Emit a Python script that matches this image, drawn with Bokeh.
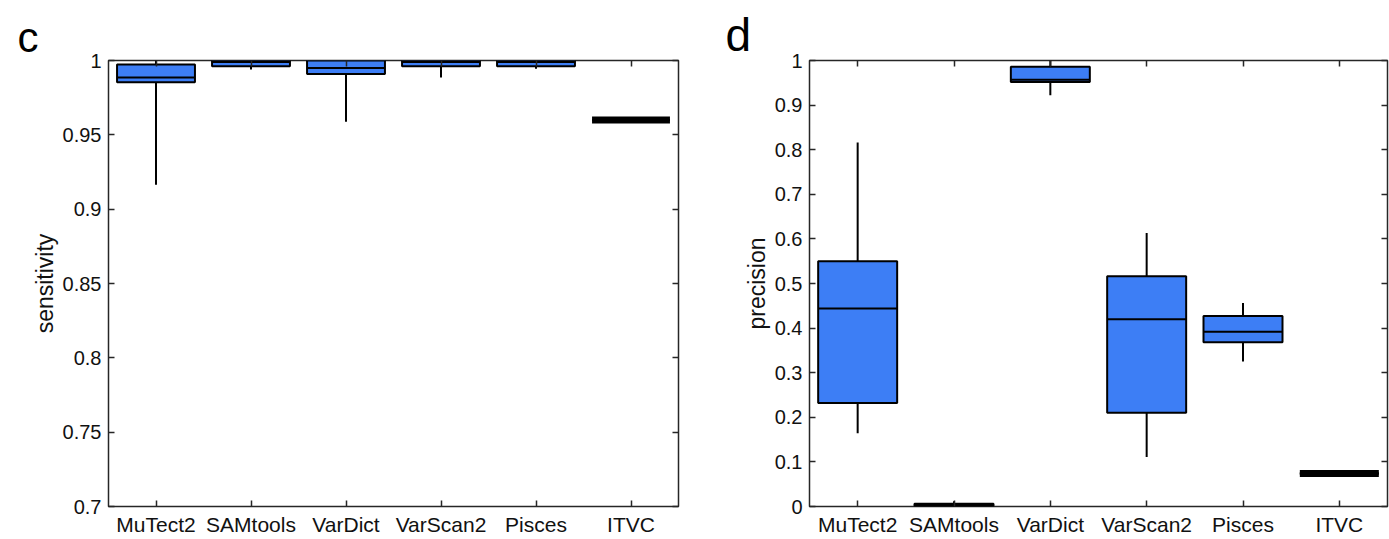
from bokeh.plotting import figure
from bokeh.models import FixedTicker, NumeralTickFormatter, LinearAxis, Range1d
from bokeh.layouts import row
from bokeh.embed import file_html
from bokeh.resources import INLINE

methods = ["MuTect2", "SAMtools", "VarDict", "VarScan2", "Pisces", "ITVC"]

# panel c: sensitivity
sens_lower = [0.9165, 0.9940, 0.9588, 0.9886, 0.9945, 0.9600]
sens_q1 = [0.9853, 0.9962, 0.9910, 0.9962, 0.9962, 0.9600]
sens_median = [0.9886, 0.9990, 0.9949, 0.9990, 0.9990, 0.9600]
sens_q3 = [0.9973, 1.0000, 1.0000, 1.0000, 1.0000, 0.9600]
sens_upper = [1.0000, 1.0000, 1.0000, 1.0000, 1.0000, 0.9600]
sens_ticks = [0.7, 0.75, 0.8, 0.85, 0.9, 0.95, 1.0]

# panel d: precision
prec_lower = [0.164, 0.000, 0.922, 0.111, 0.325, 0.074]
prec_q1 = [0.232, 0.001, 0.952, 0.210, 0.368, 0.074]
prec_median = [0.444, 0.004, 0.957, 0.420, 0.392, 0.074]
prec_q3 = [0.550, 0.006, 0.986, 0.516, 0.427, 0.074]
prec_upper = [0.816, 0.012, 1.000, 0.613, 0.456, 0.074]
prec_ticks = [0, 0.1, 0.2, 0.3, 0.4, 0.5, 0.6, 0.7, 0.8, 0.9, 1.0]

BLUE = "#3d7ef5"
AXC = "#262626"
TXT = "#111111"
FONT = "Liberation Sans"
BW = 0.82


def make_panel(lower, q1, med, q3, upper, yr, ticks, fmt, ylabel, letter,
               width, height, mbl, mbr, mbt, letter_offset, letter_size, label_standoff):
    xs = list(range(1, len(methods) + 1))
    p = figure(width=width, height=height, title=letter,
               x_range=Range1d(0.5, len(methods) + 0.5),
               y_range=Range1d(*yr),
               output_backend="svg", toolbar_location=None,
               min_border_left=mbl, min_border_right=mbr,
               min_border_top=mbt, min_border_bottom=20)
    p.title.align = "left"
    p.title.offset = letter_offset
    p.title.standoff = 0
    p.title.text_font = FONT
    p.title.text_font_size = letter_size
    p.title.text_font_style = "normal"
    p.title.text_color = "black"

    p.xgrid.visible = False
    p.ygrid.visible = False
    p.outline_line_color = AXC
    p.outline_line_width = 1.5
    p.background_fill_color = "white"
    p.border_fill_color = "white"

    # whiskers
    p.segment(x0=xs, y0=q3, x1=xs, y1=upper, line_color="black", line_width=2)
    p.segment(x0=xs, y0=lower, x1=xs, y1=q1, line_color="black", line_width=2)
    # boxes
    p.vbar(x=xs, width=BW, top=q3, bottom=q1, fill_color=BLUE,
           line_color="black", line_width=2)
    # medians
    p.segment(x0=[x - BW / 2 for x in xs], y0=med, x1=[x + BW / 2 for x in xs],
              y1=med, line_color="black", line_width=2)
    # collapsed boxes drawn as a thick bar
    flat = [i for i in range(len(xs)) if q3[i] - q1[i] < 1e-9]
    if flat:
        p.segment(x0=[xs[i] - BW / 2 for i in flat], y0=[med[i] for i in flat],
                  x1=[xs[i] + BW / 2 for i in flat], y1=[med[i] for i in flat],
                  line_color="black", line_width=7)

    # bottom axis with category names
    xa = p.xaxis[0]
    xa.ticker = FixedTicker(ticks=xs)
    xa.major_label_overrides = {x: m for x, m in zip(xs, methods)}
    xa.minor_tick_line_color = None
    xa.major_tick_in = 6
    xa.major_tick_out = 0
    xa.major_tick_line_color = AXC
    xa.major_tick_line_width = 1.5
    xa.axis_line_color = None
    xa.major_label_text_font = FONT
    xa.major_label_text_font_size = "21px"
    xa.major_label_text_color = TXT
    xa.major_label_standoff = 6

    ya = p.yaxis[0]
    ya.ticker = FixedTicker(ticks=ticks)
    ya.formatter = NumeralTickFormatter(format=fmt)
    ya.minor_tick_line_color = None
    ya.major_tick_in = 6
    ya.major_tick_out = 0
    ya.major_tick_line_color = AXC
    ya.major_tick_line_width = 1.5
    ya.axis_line_color = None
    ya.major_label_text_font = FONT
    ya.major_label_text_font_size = "20px"
    ya.major_label_text_color = TXT
    ya.major_label_standoff = 7
    ya.axis_label = ylabel
    ya.axis_label_text_font = FONT
    ya.axis_label_text_font_size = "23px"
    ya.axis_label_text_font_style = "normal"
    ya.axis_label_text_color = TXT
    ya.axis_label_standoff = label_standoff

    top = LinearAxis(ticker=FixedTicker(ticks=xs),
                     major_label_overrides={x: "" for x in xs},
                     major_label_standoff=0, major_tick_in=6, major_tick_out=0,
                     major_tick_line_color=AXC, major_tick_line_width=1.5,
                     minor_tick_line_color=None, axis_line_color=None)
    p.add_layout(top, "above")
    right = LinearAxis(ticker=FixedTicker(ticks=ticks),
                       major_label_overrides={t: "" for t in ticks},
                       major_label_standoff=0, major_tick_in=6, major_tick_out=0,
                       major_tick_line_color=AXC, major_tick_line_width=1.5,
                       minor_tick_line_color=None, axis_line_color=None)
    p.add_layout(right, "right")
    return p


H = 538
p1 = make_panel(sens_lower, sens_q1, sens_median, sens_q3, sens_upper, (0.7, 1.0),
                sens_ticks, "0.[00]", "sensitivity", "c",
                width=698, height=H, mbl=108, mbr=20, mbt=60,
                letter_offset=-91, letter_size="42px", label_standoff=2)
p2 = make_panel(prec_lower, prec_q1, prec_median, prec_q3, prec_upper, (0.0, 1.0),
                prec_ticks, "0.[0]", "precision", "d",
                width=691, height=H, mbl=111, mbr=2, mbt=52,
                letter_offset=-84, letter_size="46px", label_standoff=2)

layout = row(p1, p2)
open("out.html", "w").write(file_html(layout, INLINE))
